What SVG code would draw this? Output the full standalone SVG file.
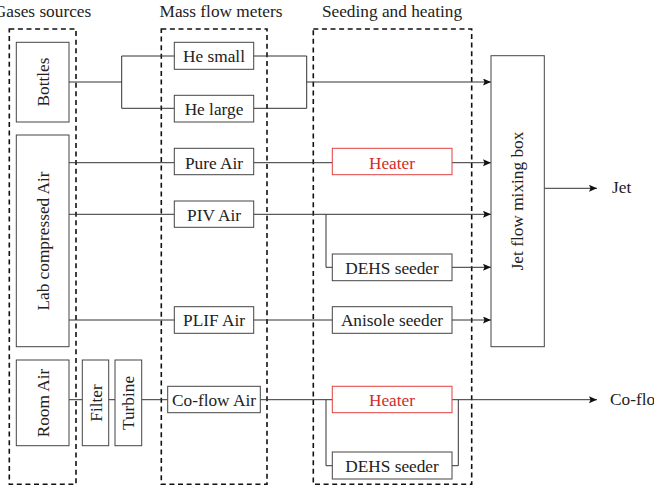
<svg xmlns="http://www.w3.org/2000/svg" width="654" height="486" viewBox="0 0 654 486">
<style>
text{font-family:"Liberation Serif","DejaVu Serif",serif;font-size:17.3px;fill:#222;text-anchor:middle}
.t{font-size:17.3px}
.lbl{text-anchor:start}
.n rect{fill:#fff;stroke:#444;stroke-width:1}
.r rect{stroke:#e04040}
.r text{fill:#d42a2a}
.grp{fill:none;stroke:#111;stroke-width:1.6;stroke-dasharray:5 3.6}
#connectors path{fill:none;stroke:#333;stroke-width:1}
#connectors .a{marker-end:url(#ah)}
</style>
<defs>
<marker id="ah" markerWidth="10" markerHeight="8" refX="8" refY="3.5" orient="auto" markerUnits="userSpaceOnUse">
<path d="M0,0 L8,3.5 L0,7 L1.5,3.5 Z" fill="#111"/>
</marker>
</defs>
<rect width="654" height="486" fill="#fff"/>
<g id="groups">
<rect class="grp" x="9.3" y="29" width="66.7" height="455.3"/>
<rect class="grp" x="161.3" y="29" width="105.7" height="455.3"/>
<rect class="grp" x="313.3" y="29" width="158.4" height="455.3"/>
<text class="t" x="42.5" y="16.7">Gases sources</text>
<text class="t" x="221" y="16.7">Mass flow meters</text>
<text class="t" x="392" y="16.7">Seeding and heating</text>
</g>
<g id="connectors">
<path d="M69,82 H121.7 M121.7,56 V108.3 M121.7,56 H174.3 M121.7,108.3 H174.3"/>
<path d="M253.7,56 H306.7 M253.7,108.3 H306.7 M306.7,56 V108.3"/>
<path class="a" d="M306.7,82 H491"/>
<path d="M69,162.7 H174.3 M253.7,162.7 H332.3"/>
<path class="a" d="M452,162.7 H491"/>
<path d="M69,214.3 H174.3"/>
<path class="a" d="M253.7,214.3 H491"/>
<path d="M326,214.3 V267.3 H332.3"/>
<path class="a" d="M452,267.3 H491"/>
<path d="M69,320 H174.3 M253.7,320 H332.3"/>
<path class="a" d="M452,320 H491"/>
<path d="M69,399.7 H82.3 M108.7,399.7 H115 M141.7,399.7 H167.7 M260.3,399.7 H332.3 M326,399.7 V465.7 H332.3 M452,465.7 H458.3 V399.7"/>
<path class="a" d="M452,399.7 H597"/>
<path class="a" d="M544.3,188.3 H597"/>
</g>
<g id="bottles" class="n"><rect x="16.3" y="42.3" width="52.7" height="79.7"/><text transform="translate(43.5,82) rotate(-90)" dy="5.5">Bottles</text></g>
<g id="lab-air" class="n"><rect x="16.3" y="135" width="52.7" height="211.7"/><text transform="translate(43.5,241) rotate(-90)" dy="5.5">Lab compressed Air</text></g>
<g id="room-air" class="n"><rect x="16.3" y="360" width="52.7" height="85.7"/><text transform="translate(43.5,403) rotate(-90)" dy="5.5">Room Air</text></g>
<g id="filter" class="n"><rect x="82.3" y="360" width="26.4" height="85.7"/><text transform="translate(96,403) rotate(-90)" dy="5.5">Filter</text></g>
<g id="turbine" class="n"><rect x="115" y="360" width="26.7" height="85.7"/><text transform="translate(128.8,403) rotate(-90)" dy="5.5">Turbine</text></g>
<g id="he-small" class="n"><rect x="174.3" y="42.3" width="79.4" height="27"/><text x="214" y="61.8">He small</text></g>
<g id="he-large" class="n"><rect x="174.3" y="95.3" width="79.4" height="26.7"/><text x="214" y="114.5">He large</text></g>
<g id="pure-air" class="n"><rect x="174.3" y="148.3" width="79.4" height="26.4"/><text x="214" y="168.5">Pure Air</text></g>
<g id="piv-air" class="n"><rect x="174.3" y="201" width="79.4" height="26.3"/><text x="214" y="220.5">PIV Air</text></g>
<g id="plif-air" class="n"><rect x="174.3" y="306.7" width="79.4" height="26.6"/><text x="214" y="326">PLIF Air</text></g>
<g id="coflow-air" class="n"><rect x="167.7" y="386.3" width="92.6" height="26.4"/><text x="214" y="405.8">Co-flow Air</text></g>
<g id="heater1" class="n r"><rect x="332.3" y="148.3" width="119.7" height="26.4"/><text x="392" y="168.5">Heater</text></g>
<g id="dehs1" class="n"><rect x="332.3" y="254" width="119.7" height="26.7"/><text x="392" y="273.5">DEHS seeder</text></g>
<g id="anisole" class="n"><rect x="332.3" y="306.7" width="119.7" height="26.6"/><text x="392" y="326">Anisole seeder</text></g>
<g id="heater2" class="n r"><rect x="332.3" y="386.3" width="119.7" height="26.4"/><text x="392" y="405.8">Heater</text></g>
<g id="dehs2" class="n"><rect x="332.3" y="452" width="119.7" height="27"/><text x="392" y="471.5">DEHS seeder</text></g>
<g id="mixing-box" class="n"><rect x="491" y="55.7" width="53.3" height="291"/><text transform="translate(517.7,201) rotate(-90)" dy="5.5">Jet flow mixing box</text></g>
<g id="jet"><text class="lbl" x="612" y="193">Jet</text></g>
<g id="coflow"><text class="lbl" x="610" y="404.5">Co-flow</text></g>
</svg>
